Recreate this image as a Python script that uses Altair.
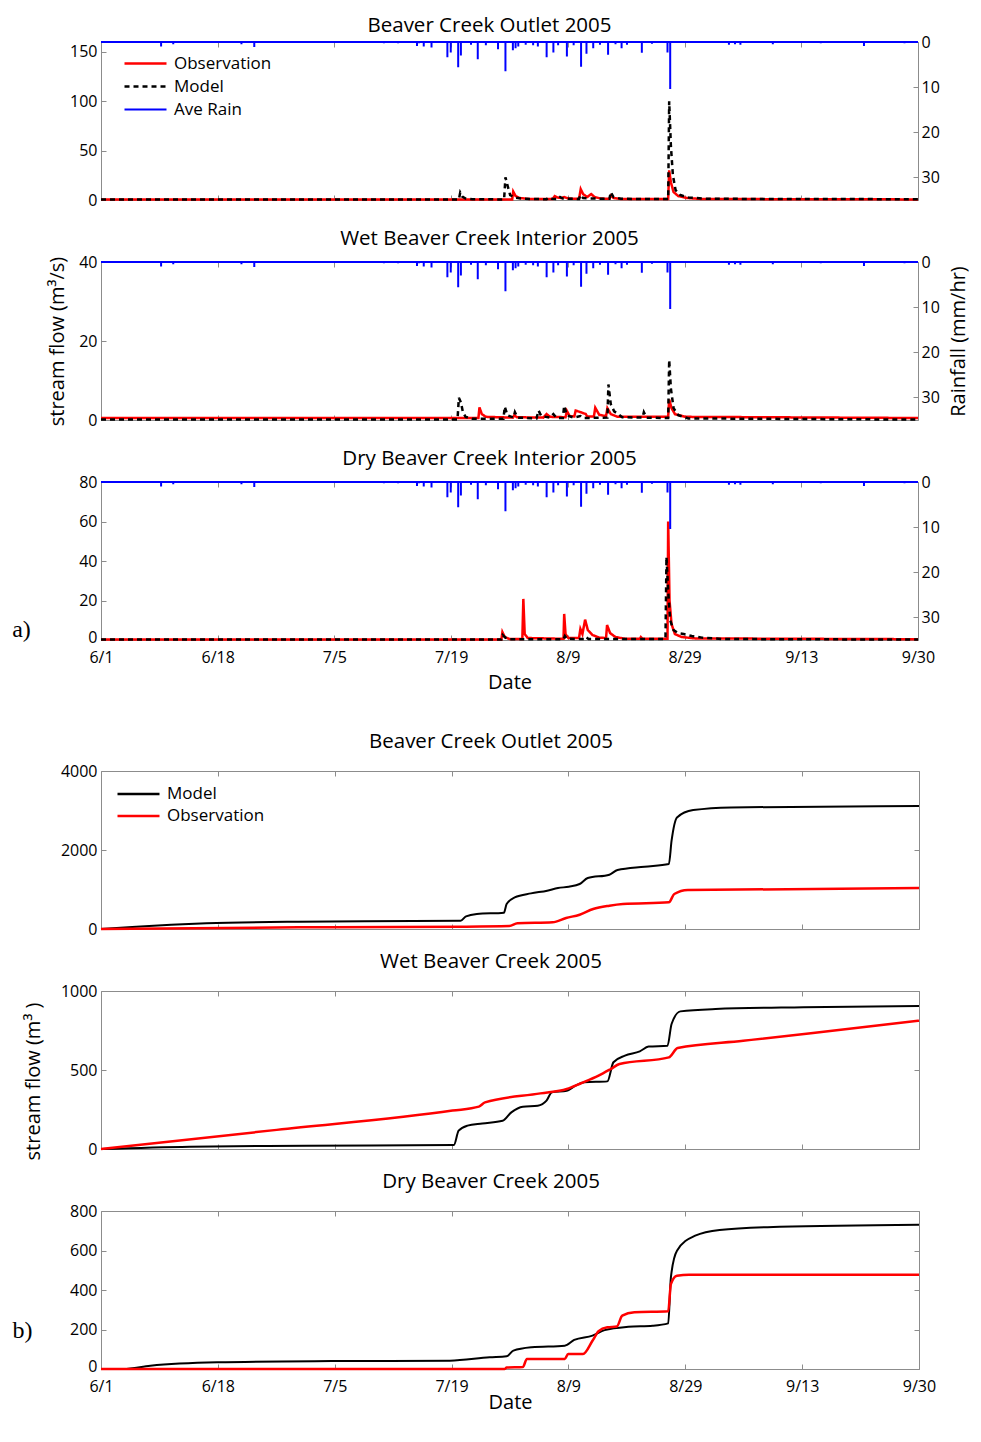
import altair as alt
import pandas as pd

# ---------------- data ----------------
N_DAYS = 121  # 6/1 .. 9/30
TICK_LABELS = ["6/1", "6/18", "7/5", "7/19", "8/9", "8/29", "9/13", "9/30"]

A_TITLES = ["Beaver Creek Outlet 2005", "Wet Beaver Creek Interior 2005", "Dry Beaver Creek Interior 2005"]
B_TITLES = ["Beaver Creek Outlet 2005", "Wet Beaver Creek 2005", "Dry Beaver Creek 2005"]
A_SERIES = ["Observation", "Model", "Ave Rain"]
B_SERIES = ["Model", "Observation"]
PANEL_TAGS = ["a)", "b)"]

# average rainfall spikes (mm/hr), day offset from 6/1
RAIN_DAY = [8.9, 10.7, 20.8, 22.7, 41.9, 44.0, 46.8, 47.1, 47.8, 48.95, 51.3, 51.8, 52.9, 53.3, 54.8,
            55.8, 57.0, 58.8, 59.9, 61.0, 61.4, 61.8, 62.9, 64.0, 64.7, 66.0, 67.0, 67.7, 69.0,
            70.0, 71.1, 71.9, 72.9, 73.9, 75.1, 76.2, 77.1, 77.9, 80.1, 81.6, 83.9, 84.3, 93.0,
            93.9, 94.7, 99.5, 106.6, 113.0, 119.0]
RAIN_MM = [1.0, 0.5, 0.5, 1.1, 0.3, 0.3, 0.9, 0.3, 1.0, 1.2, 3.4, 2.3, 5.6, 3.0, 0.6,
           3.8, 0.7, 1.6, 6.5, 1.8, 1.4, 1.0, 0.6, 0.7, 1.0, 3.4, 2.3, 0.7, 3.2,
           0.7, 5.5, 2.6, 1.4, 0.6, 2.8, 0.5, 1.4, 0.6, 2.4, 0.4, 2.3, 10.4, 0.6,
           0.5, 0.6, 0.5, 0.3, 0.9, 0.3]

# (a) stream flow, m3/s
A1_OBS_DAY = [0, 59.8, 60.9, 61.05, 61.4, 62.0, 63.5, 66.9, 67.2, 67.6, 68.2, 68.6, 69.2, 70.8, 71.05, 71.4,
              72.0, 72.6, 73.1, 74.0, 75.3, 75.5, 75.9, 77.0, 84.0, 84.15, 84.4, 84.8, 85.5, 86.8, 89.0, 121]
A1_OBS_Q = [0.5, 0.5, 0.6, 8.5, 4, 2, 1, 0.9, 4, 2.5, 2, 3, 1.5, 1.2, 11, 6,
            3, 6, 3, 1.5, 1.2, 4.5, 2, 1, 0.9, 30, 18, 8, 4, 2, 1, 0.6]
A1_MOD_DAY = [0, 53.0, 53.2, 53.5, 54.0, 55.0, 59.7, 59.9, 60.2, 60.6, 61.3, 62.5, 66.0, 66.3, 66.8, 67.8,
              68.0, 68.4, 70.8, 71.0, 71.4, 72.5, 75.3, 75.5, 75.9, 77.0, 84.0, 84.15, 84.4, 84.7, 85.1,
              85.8, 87.0, 90.0, 121]
A1_MOD_Q = [0.4, 0.4, 7.5, 3.5, 1.5, 0.7, 0.6, 23, 15, 5, 2.5, 1.2, 0.8, 2.5, 1.2, 1.0,
            3, 1.5, 1.0, 5, 2, 1.5, 1.2, 8, 3, 1.2, 0.9, 100, 55, 25, 10,
            5, 2.5, 1.2, 0.8]

A2_OBS_DAY = [0, 55.9, 56.05, 56.4, 57.0, 61.0, 61.2, 61.6, 65.5, 66.0, 66.5, 68.8, 69.0, 69.4, 70.1, 70.3,
              71.0, 71.8, 72.0, 73.0, 73.2, 73.8, 74.8, 75.0, 75.5, 76.5, 84.0, 84.15, 84.5, 85.0, 86.5, 121]
A2_OBS_Q = [0.5, 0.5, 3.2, 1.5, 0.8, 0.6, 1.2, 0.7, 0.6, 1.5, 0.8, 0.7, 2.3, 1.0, 0.9, 2.4,
            2.0, 1.5, 0.9, 0.9, 3.1, 1.3, 1.0, 3.0, 1.5, 0.8, 0.8, 5.2, 3.0, 1.5, 0.8, 0.5]
A2_MOD_DAY = [0, 52.8, 53.0, 53.3, 53.6, 54.0, 55.0, 59.6, 59.8, 60.2, 61.1, 61.3, 61.7, 64.5, 64.8, 65.2,
              66.5, 67.0, 67.5, 68.4, 68.6, 69.0, 70.0, 71.0, 71.4, 75.0, 75.15, 75.5, 76.0, 76.6, 77.2,
              80.2, 80.4, 80.8, 84.0, 84.15, 84.4, 84.8, 85.5, 87.0, 121]
A2_MOD_Q = [0.1, 0.1, 5.6, 4.5, 2.0, 0.8, 0.3, 0.3, 3.4, 1.2, 0.6, 2.0, 0.6, 0.4, 2.4, 1.0,
            0.6, 1.5, 0.5, 0.5, 3.6, 1.2, 0.6, 1.0, 0.5, 0.6, 9.0, 4.0, 2.2, 1.5, 0.7,
            0.6, 2.0, 0.6, 0.5, 15.2, 8.0, 3.0, 1.2, 0.4, 0.1]

A3_OBS_DAY = [0, 59.3, 59.45, 59.8, 60.5, 62.4, 62.55, 62.75, 63.2, 68.5, 68.6, 68.8, 69.2, 70.8, 71.0, 71.3,
              71.7, 72.1, 72.8, 73.8, 74.8, 74.95, 75.4, 76.2, 77.5, 79.8, 79.95, 80.2, 83.9, 84.0, 84.2,
              84.5, 85.0, 86.0, 88.0, 121]
A3_OBS_Q = [0.3, 0.3, 4.0, 1.5, 0.5, 0.5, 20.8, 3.0, 1.0, 0.6, 13.2, 3.0, 1.0, 1.0, 5.6, 3.0,
            10.3, 5.0, 2.5, 1.2, 1.0, 7.6, 3.5, 1.5, 0.7, 0.6, 1.5, 0.6, 0.6, 60, 20,
            8, 3, 1.5, 0.8, 0.4]
A3_MOD_DAY = [0, 59.3, 59.5, 59.9, 60.5, 68.5, 68.7, 69.0, 71.6, 71.8, 72.2, 83.6, 83.75, 84.0, 84.3, 84.8,
              85.5, 86.3, 87.5, 89.0, 92.0, 121]
A3_MOD_Q = [0.2, 0.2, 2.5, 1.2, 0.4, 0.4, 2.0, 0.6, 0.5, 1.5, 0.5, 0.5, 42, 25, 10, 5,
            3.5, 3.0, 2.0, 1.2, 0.5, 0.2]

# (b) cumulative stream flow, m3
B1_MOD_DAY = [0, 5.2, 15.6, 29.2, 53.2, 54.0, 55.6, 59.6, 60.0, 61.2, 63.6, 66.0, 67.6, 69.2, 70.8, 72.0,
              75.2, 76.4, 80.4, 84.0, 84.4, 85.2, 87.6, 93.2, 121]
B1_MOD_V = [0, 59, 143, 186, 211, 320, 380, 413, 633, 801, 902, 970, 1037, 1071, 1139, 1290,
            1375, 1493, 1577, 1645, 2235, 2825, 3011, 3079, 3112]
B1_OBS_DAY = [0, 29.2, 53.2, 60.4, 61.6, 66.8, 68.8, 70.8, 72.8, 75.2, 77.2, 84.0, 84.8, 86.8, 121]
B1_OBS_V = [0, 42, 59, 76, 143, 169, 278, 362, 506, 590, 633, 675, 886, 987, 1037]

B2_MOD_DAY = [0, 13.1, 30.4, 52.2, 52.9, 54.2, 56.4, 59.4, 60.7, 62.4, 64.6, 65.9, 66.7, 68.9, 70.2, 71.5,
              74.9, 75.8, 77.5, 79.7, 81.0, 83.8, 84.4, 85.7, 90.9, 103.9, 121]
B2_MOD_V = [0, 15, 21, 25, 116, 148, 162, 179, 232, 268, 274, 306, 359, 369, 401, 422,
            428, 549, 591, 618, 648, 654, 791, 871, 886, 897, 905]
B2_OBS_DAY = [0, 26.0, 52.0, 55.9, 56.8, 65.0, 68.9, 71.0, 73.6, 75.4, 76.7, 84.0, 85.3, 95.0, 105.0, 121]
B2_OBS_V = [0, 121, 243, 268, 295, 352, 380, 416, 464, 506, 538, 580, 639, 685, 733, 812]

B3_MOD_DAY = [0, 3.3, 7.3, 17.2, 34.2, 51.6, 57.5, 60.0, 61.0, 63.7, 68.6, 70.0, 72.7, 74.5, 78.0, 81.6,
              83.9, 84.3, 85.2, 87.9, 91.5, 100.4, 121]
B3_MOD_V = [0, 0, 17, 34, 40, 42, 59, 64, 93, 110, 118, 147, 169, 197, 214, 219,
            231, 464, 599, 675, 704, 720, 731]
B3_OBS_DAY = [0, 59.7, 60.0, 62.4, 63.0, 68.6, 69.1, 71.3, 72.7, 73.6, 74.9, 76.3, 77.1, 78.9, 83.9, 84.3,
              85.2, 87.0, 121]
B3_OBS_V = [0, 0, 7, 10, 51, 51, 76, 76, 143, 191, 211, 215, 270, 287, 292, 430,
            472, 477, 477]

# ---------------- styling ----------------
FONT = "Open Sans"
RED, BLACK, BLUE, GRID = "#ff0000", "#000000", "#0000ff", "#8c8c8c"
WA, WB, H = 817, 818, 158

TICK_VALUES = [i * N_DAYS / 7 for i in range(8)]
LABEL_EXPR = "[" + ",".join("'%s'" % t for t in TICK_LABELS) + "][round(datum.value * 7 / %d)]" % N_DAYS
ZERO_LIFT = {"condition": {"test": "datum.value === 0", "value": -3}, "value": 0}


def x_enc(show_labels, title_y, h_dash):
    kw = dict(values=TICK_VALUES, labelExpr=LABEL_EXPR, labelFlush=False, ticks=False, tickSize=0,
              domain=False, grid=True, gridDash=[5, h_dash, 5], gridColor=GRID, gridWidth=1,
              labels=show_labels, labelFontSize=16, labelPadding=9, labelFont=FONT)
    if show_labels:
        kw.update(title="Date", titleY=title_y, titleBaseline="middle", titleFontSize=20)
    else:
        kw.update(title=None)
    return alt.X("day:Q", scale=alt.Scale(domain=[0, N_DAYS], nice=False, zero=False),
                 axis=alt.Axis(**kw))


def flows_df(days, vals, name):
    return pd.DataFrame({"day": days, "q": vals, "series": name})


def panel_a(title, obs, mod, ymax, yvals, legend, left_title=None, right_title=None,
            xlabels=False, tag=None, title_offset=-5.2):
    leg = None
    if legend:
        leg = alt.Legend(title=None, orient="none", legendX=22, legendY=10, symbolType="stroke",
                         symbolSize=1764, clipHeight=23, labelFont=FONT, labelFontSize=17, labelOffset=6,
                         padding=0, rowPadding=0)
    color = alt.Color("series:N", scale=alt.Scale(domain=A_SERIES, range=[RED, BLACK, BLUE]), legend=leg)
    dash = alt.StrokeDash("series:N", scale=alt.Scale(domain=A_SERIES, range=[[1, 0], [5, 4], [1, 0]]),
                          legend=leg)
    width = alt.StrokeWidth("series:N", scale=alt.Scale(type="ordinal", domain=A_SERIES, range=[2.5, 2.5, 2.0]),
                            legend=leg)
    lkw = dict(orient="left", values=yvals, format="d", ticks=False, tickSize=0, domain=False, grid=True,
               gridDash=[5, 5000], gridColor=GRID, labelPadding=4, labelFontSize=16)
    if xlabels:
        lkw.update(labelOffset=ZERO_LIFT)
    if left_title:
        lkw.update(title=left_title, titleX=-43.5, titleY=H / 2, titleAngle=270,
                   titleBaseline="middle", titleAlign="center", titleFontSize=20)
    else:
        lkw.update(title=None)
    yflow = alt.Y("q:Q", scale=alt.Scale(domain=[0, ymax], nice=False), axis=alt.Axis(**lkw))
    rkw = dict(orient="right", values=[0, 10, 20, 30], format="d", ticks=False, tickSize=0, domain=False,
               grid=True, gridDash=[5, 5000], gridColor=GRID, labelPadding=3, labelFontSize=16)
    if right_title:
        rkw.update(title=right_title, titleX=40, titleY=H / 2, titleAngle=270,
                   titleBaseline="middle", titleAlign="center", titleFontSize=20)
    else:
        rkw.update(title=None)
    yrain = alt.Y("rain:Q", scale=alt.Scale(domain=[0, 35], reverse=True, nice=False), axis=alt.Axis(**rkw))
    xe = x_enc(xlabels, 42, H - 10)

    obs_line = alt.Chart(flows_df(obs[0], obs[1], "Observation")).mark_line().encode(
        x=xe, y=yflow, color=color, strokeDash=dash, strokeWidth=width)
    mod_line = alt.Chart(flows_df(mod[0], mod[1], "Model")).mark_line().encode(
        x=xe, y=yflow, color=color, strokeDash=dash, strokeWidth=width)
    rain_df = pd.DataFrame({"day": RAIN_DAY, "rain": RAIN_MM, "series": "Ave Rain"})
    spikes = alt.Chart(rain_df).mark_rule().encode(
        x=xe, y=yrain, y2=alt.datum(0), color=color, strokeDash=dash, strokeWidth=width)
    base_df = pd.DataFrame({"day": [0], "day2": [N_DAYS], "rain": [0]})
    base = alt.Chart(base_df).mark_rule(color=BLUE, strokeWidth=2).encode(x=xe, x2="day2:Q", y=yrain)
    layers = [alt.layer(obs_line, mod_line), alt.layer(spikes, base)]
    if tag:
        layers.append(alt.Chart(pd.DataFrame({"tag": [tag]})).mark_text(
            font="Liberation Serif", fontSize=24, align="center", baseline="middle").encode(
            text="tag:N", x=alt.value(-79.5), y=alt.value(148)))
    return alt.layer(*layers).resolve_scale(y="independent").properties(
        width=WA, height=H,
        title=alt.Title(title, offset=title_offset, baseline="middle", dx=-20, frame="group", anchor="middle"))


def panel_b(title, obs, mod, ymax, yvals, legend, left_title=None, xlabels=False, tag=None):
    leg = None
    if legend:
        leg = alt.Legend(title=None, orient="none", legendX=15, legendY=12, symbolType="stroke",
                         symbolSize=1764, clipHeight=22, symbolStrokeWidth=2.5, labelFont=FONT,
                         labelFontSize=17, labelOffset=6, padding=0, rowPadding=0)
    color = alt.Color("series:N", scale=alt.Scale(domain=B_SERIES, range=[BLACK, RED]), legend=leg)
    lkw = dict(orient="left", values=yvals, format="d", ticks=False, tickSize=0, domain=False, grid=True,
               gridDash=[5, WB - 10, 5], gridColor=GRID, labelPadding=4, labelFontSize=16)
    if xlabels:
        lkw.update(labelOffset=ZERO_LIFT)
    if left_title:
        lkw.update(title=left_title, titleX=-67.5, titleY=90, titleAngle=270,
                   titleBaseline="middle", titleAlign="center", titleFontSize=20)
    else:
        lkw.update(title=None)
    y = alt.Y("q:Q", scale=alt.Scale(domain=[0, ymax], nice=False), axis=alt.Axis(**lkw))
    xe = x_enc(xlabels, 33, H - 10)
    mod_line = alt.Chart(flows_df(mod[0], mod[1], "Model")).mark_line(
        interpolate="monotone", strokeWidth=2).encode(x=xe, y=y, color=color)
    obs_line = alt.Chart(flows_df(obs[0], obs[1], "Observation")).mark_line(
        interpolate="monotone", strokeWidth=2.5).encode(x=xe, y=y, color=color)
    layers = [mod_line, obs_line]
    if tag:
        layers.append(alt.Chart(pd.DataFrame({"tag": [tag]})).mark_text(
            font="Liberation Serif", fontSize=24, align="center", baseline="middle").encode(
            text="tag:N", x=alt.value(-78.5), y=alt.value(120)))
    return alt.layer(*layers).properties(
        width=WB, height=H,
        title=alt.Title(title, offset=1, baseline="middle", dx=-19, frame="group", anchor="middle"))


a1 = panel_a(A_TITLES[0], (A1_OBS_DAY, A1_OBS_Q), (A1_MOD_DAY, A1_MOD_Q), 160, [0, 50, 100, 150], True,
             title_offset=-12.7)
a2 = panel_a(A_TITLES[1], (A2_OBS_DAY, A2_OBS_Q), (A2_MOD_DAY, A2_MOD_Q), 40, [0, 20, 40], False,
             left_title="stream flow (m³/s)", right_title="Rainfall (mm/hr)")
a3 = panel_a(A_TITLES[2], (A3_OBS_DAY, A3_OBS_Q), (A3_MOD_DAY, A3_MOD_Q), 80, [0, 20, 40, 60, 80], False,
             xlabels=True, tag=PANEL_TAGS[0])

spacer = alt.Chart(pd.DataFrame({"t": [""]})).mark_text().encode(text="t:N").properties(
    width=WB, height=7, view=alt.ViewBackground(stroke="transparent"))

b1 = panel_b(B_TITLES[0], (B1_OBS_DAY, B1_OBS_V), (B1_MOD_DAY, B1_MOD_V), 4000, [0, 2000, 4000], True)
b2 = panel_b(B_TITLES[1], (B2_OBS_DAY, B2_OBS_V), (B2_MOD_DAY, B2_MOD_V), 1000, [0, 500, 1000], False,
             left_title="stream flow (m³ )")
b3 = panel_b(B_TITLES[2], (B3_OBS_DAY, B3_OBS_V), (B3_MOD_DAY, B3_MOD_V), 800, [0, 200, 400, 600, 800], False,
             xlabels=True, tag=PANEL_TAGS[1])

chart = alt.vconcat(a1, a2, a3, spacer, b1, b2, b3, spacing=62, bounds="flush").resolve_scale(
    color="independent", strokeDash="independent", strokeWidth="independent",
    x="independent", y="independent"
).properties(
    padding={"left": 3, "top": 7, "right": 2, "bottom": 2}
).configure(font=FONT).configure_view(stroke=GRID, strokeWidth=1).configure_axis(
    labelFont=FONT, titleFont=FONT, labelColor=BLACK, titleColor=BLACK, titleFontWeight="normal"
).configure_title(font=FONT, fontSize=20.5, fontWeight="normal", color=BLACK).configure_legend(
    labelFont=FONT, labelColor=BLACK)

chart.save("out.html", embed_options={"renderer": "svg", "actions": False})
